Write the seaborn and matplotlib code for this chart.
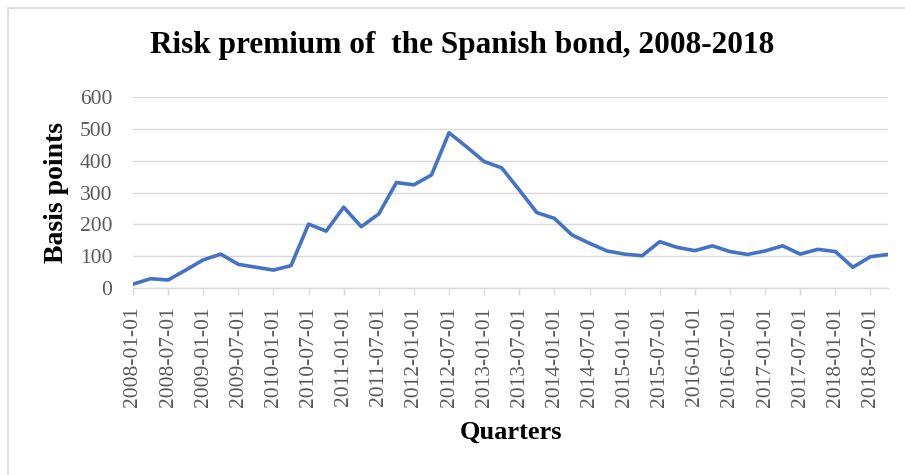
import matplotlib
matplotlib.use("Agg")
import matplotlib.pyplot as plt
from matplotlib.lines import Line2D
import seaborn as sns
import pandas as pd

# Quarterly spread of the Spanish 10-year bond over the German Bund (basis points)
quarters = [f"{y}-{m:02d}-01" for y in range(2008, 2019) for m in (1, 4, 7, 10)]
spread = [13, 30, 26, 57, 89, 107, 75, 66, 57, 71, 201, 179,
          254, 193, 233, 331, 324, 355, 487, 443, 397, 377, 308, 237,
          219, 167, 141, 117, 107, 102, 146, 128, 118, 133, 115, 106,
          117, 133, 107, 122, 115, 66, 99, 106]
y_ticks = [0, 100, 200, 300, 400, 500, 600]

title = "Risk premium of  the Spanish bond, 2008-2018"
x_title = "Quarters"
y_title = "Basis points"

df = pd.DataFrame({"Quarter": quarters, "Basis points": spread})

sns.set_theme(style="white")
plt.rcParams["font.family"] = ["Liberation Serif", "DejaVu Serif"]

W, H = 905, 475
fig = plt.figure(figsize=(W / 100, H / 100), dpi=100)
ax = fig.add_axes([133 / W, 1 - 288.3 / H, (888 - 133) / W, (288.3 - 96.7) / H])

sns.lineplot(data=df, x="Quarter", y="Basis points", ax=ax,
             color="#4472C4", linewidth=2.6, sort=False)

grid_c = "#D9D9D9"
ax.set_ylim(0, 600)
ax.set_xlim(0, len(quarters) - 1)
ax.set_yticks(y_ticks)
ax.set_yticklabels([str(v) for v in y_ticks])
ax.yaxis.grid(True, color=grid_c, linewidth=1.0)
ax.xaxis.grid(False)
ax.set_axisbelow(True)

xt = list(range(0, len(quarters), 2))
ax.set_xticks(xt)
ax.set_xticklabels([quarters[i] for i in xt], rotation=90)

for s in ("top", "right", "left"):
    ax.spines[s].set_visible(False)
ax.spines["bottom"].set_color(grid_c)
ax.spines["bottom"].set_linewidth(1.0)

ax.tick_params(axis="x", which="major", bottom=True, length=5, width=1.0,
               color=grid_c, labelsize=15.5, labelcolor="#595959", pad=8)
ax.tick_params(axis="y", which="major", left=False, labelsize=15.5,
               labelcolor="#595959", pad=9)

ax.set_xlabel(x_title, fontsize=19, fontweight="bold", color="black", labelpad=10)
ax.set_ylabel(y_title, fontsize=20, fontweight="bold", color="black", labelpad=8)

fig.text(462.5 / W, 1 - 45 / H, title, ha="center", va="center",
         fontsize=22.5, fontweight="bold", color="black")

# Outer chart frame (left and top edges)
fig.add_artist(Line2D([7.5 / W, 7.5 / W], [0, 1 - 7.5 / H], transform=fig.transFigure,
                      color=grid_c, linewidth=1.2))
fig.add_artist(Line2D([7.5 / W, 1], [1 - 7.5 / H, 1 - 7.5 / H], transform=fig.transFigure,
                      color=grid_c, linewidth=1.2))

fig.savefig("out.png", dpi=100)
